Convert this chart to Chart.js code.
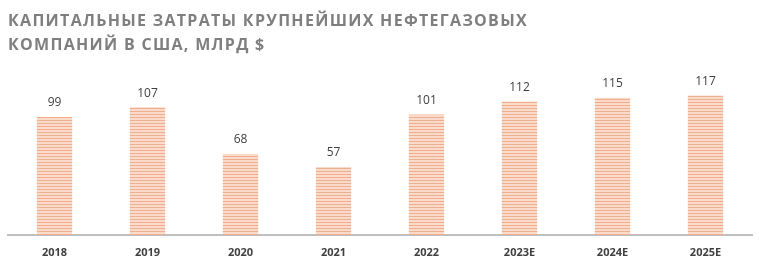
<!DOCTYPE html>
<html>
<head>
<meta charset="utf-8">
<script src="https://cdn.jsdelivr.net/npm/chart.js@4/dist/chart.umd.min.js"></script>
<style>
  html, body { margin: 0; padding: 0; background: #fff; }
  #wrap { position: relative; width: 759px; height: 258px; }
  #title {
    position: absolute; left: 8px; top: 8px;
    font-family: "Open Sans", sans-serif; font-weight: 700;
    font-size: 16px; line-height: 24px; letter-spacing: 1.3px;
    color: #7f7f7f;
  }
  canvas { position: absolute; left: 0; top: 0; }
</style>
</head>
<body>
<div id="wrap">
  <canvas id="capexChart" width="759" height="258"></canvas>
  <div id="title">КАПИТАЛЬНЫЕ ЗАТРАТЫ КРУПНЕЙШИХ НЕФТЕГАЗОВЫХ<br>КОМПАНИЙ В США, МЛРД $</div>
</div>
<script>
// Данные
const years = ['2018', '2019', '2020', '2021', '2022', '2023E', '2024E', '2025E'];
const capex = [99, 107, 68, 57, 101, 112, 115, 117];

// Полосатая заливка столбцов
function stripePattern() {
    const c = document.createElement('canvas');
    c.width = 4;
    c.height = 3;
    const g = c.getContext('2d');
    g.fillStyle = '#FADACA';
    g.fillRect(0, 0, 4, 3);
    g.fillStyle = '#F2AF90';
    g.fillRect(0, 0, 4, 1);
    return g.createPattern(c, 'repeat');
}

// Подписи значений над столбцами
const valueLabels = {
    id: 'valueLabels',
    afterDatasetsDraw(chart) {
        const ctx = chart.ctx;
        const meta = chart.getDatasetMeta(0);
        ctx.save();
        ctx.font = '12px "Open Sans", sans-serif';
        ctx.fillStyle = '#404040';
        ctx.textAlign = 'center';
        ctx.textBaseline = 'bottom';
        meta.data.forEach((bar, i) => {
            ctx.fillText(capex[i], bar.x, bar.y - 8);
        });
        ctx.restore();
    }
};

function initializeChart() {
    const ctx = document.getElementById('capexChart').getContext('2d');
    new Chart(ctx, {
        type: 'bar',
        data: {
            labels: years,
            datasets: [{
                data: capex,
                backgroundColor: stripePattern(),
                borderWidth: 0,
                categoryPercentage: 1,
                barPercentage: 0.38
            }]
        },
        options: {
            responsive: false,
            animation: false,
            layout: { padding: { left: 8, right: 7, top: 68, bottom: 0 } },
            plugins: {
                legend: { display: false },
                tooltip: { enabled: false }
            },
            scales: {
                x: {
                    grid: { display: false, drawTicks: false },
                    border: { color: '#BFBFBF', width: 2 },
                    afterFit(scale) { scale.height = 23; },
                    ticks: {
                        color: '#404040',
                        padding: 11,
                        font: { family: '"Open Sans", sans-serif', size: 11, weight: 'bold' }
                    }
                },
                y: {
                    display: false,
                    min: 0,
                    max: 140
                }
            }
        },
        plugins: [valueLabels]
    });
}

document.addEventListener('DOMContentLoaded', initializeChart);
</script>
</body>
</html>
